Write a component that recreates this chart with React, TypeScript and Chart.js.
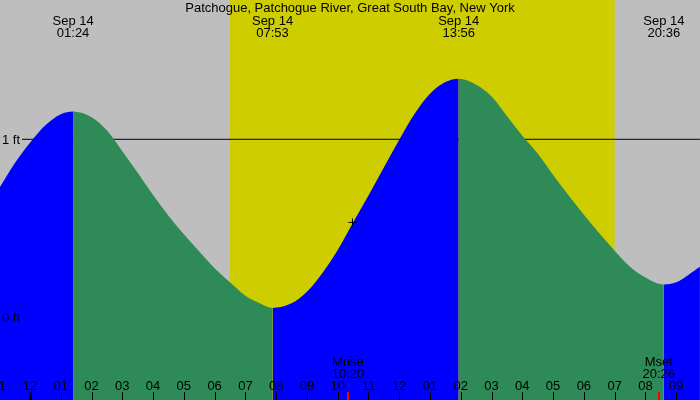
import { useEffect, useRef } from 'react'
import { Chart, registerables } from 'chart.js'
import type { Plugin } from 'chart.js'

Chart.register(...registerables)

const stationTitle = 'Patchogue, Patchogue River, Great South Bay, New York'

// hours after midnight Sep 14 / water level in feet
const tideHours = [-0.975, -0.5, 0, 0.5, 1, 1.4, 2, 2.5, 3, 3.5, 4, 4.5, 5, 5.5, 6, 6.5, 7, 7.5, 7.883, 8.5, 9, 9.5, 10, 10.5, 11, 11.5, 12, 12.5, 13, 13.5, 13.933, 14.5, 15, 15.5, 16, 16.5, 17, 18, 19, 19.5, 20, 20.6, 21, 21.77]
const tideFeet = [0.733, 0.864, 0.98, 1.078, 1.14, 1.156, 1.124, 1.05, 0.933, 0.813, 0.688, 0.572, 0.468, 0.372, 0.279, 0.2, 0.125, 0.08, 0.056, 0.082, 0.147, 0.25, 0.38, 0.535, 0.685, 0.842, 0.998, 1.143, 1.255, 1.32, 1.339, 1.305, 1.24, 1.13, 1.02, 0.92, 0.8, 0.578, 0.377, 0.287, 0.227, 0.188, 0.2, 0.287]

// high / low water
const extremeHours = [1.4, 7.883, 13.933, 20.6]
const extremeTimes = ['01:24', '07:53', '13:56', '20:36']
const extremeDay = 'Sep 14'

const sunriseHour = 6.5
const sunsetHour = 19.0

const moonHours = [10.333, 20.433]
const moonNames = ['Mrise', 'Mset']
const moonTimes = ['10:20', '20:26']

const hourTicks = [-1, 0, 1, 2, 3, 4, 5, 6, 7, 8, 9, 10, 11, 12, 13, 14, 15, 16, 17, 18, 19, 20, 21]
const hourLabels = ['11', '12', '01', '02', '03', '04', '05', '06', '07', '08', '09', '10', '11', '12', '01', '02', '03', '04', '05', '06', '07', '08', '09']

const levelFeet = [1, 0]
const levelLabels = ['1 ft', '0 ft']

const nowHour = 10.48
const nowFeet = 0.535

const FONT = '13px "Liberation Sans", Arial, sans-serif'

const backdrop: Plugin<'line'> = {
  id: 'backdrop',
  beforeDraw(chart) {
    const { ctx, chartArea, scales } = chart
    const x = scales.x
    ctx.save()
    ctx.fillStyle = '#bebebe'
    ctx.fillRect(0, 0, chart.width, chart.height)
    const x0 = x.getPixelForValue(sunriseHour)
    const x1 = x.getPixelForValue(sunsetHour)
    ctx.fillStyle = '#cdcd00'
    ctx.fillRect(x0, chartArea.top, x1 - x0, chartArea.bottom - chartArea.top)
    ctx.restore()
  }
}

const labels: Plugin<'line'> = {
  id: 'labels',
  afterDraw(chart) {
    const { ctx, scales } = chart
    const x = scales.x
    const y = scales.y
    ctx.save()
    ctx.font = FONT
    ctx.fillStyle = '#000'
    ctx.textBaseline = 'alphabetic'
    ctx.textAlign = 'center'

    ctx.fillText(stationTitle, chart.width / 2, 12)

    extremeHours.forEach((h, i) => {
      const px = x.getPixelForValue(h)
      ctx.fillText(extremeDay, px, 24.5)
      ctx.fillText(extremeTimes[i], px, 36.5)
    })

    ctx.textAlign = 'left'
    levelFeet.forEach((f, i) => {
      ctx.fillText(levelLabels[i], 2, y.getPixelForValue(f) + 4.5)
    })

    ctx.textAlign = 'center'
    moonHours.forEach((h, i) => {
      const px = x.getPixelForValue(h)
      ctx.fillText(moonNames[i], px, 366)
      ctx.fillText(moonTimes[i], px, 377.5)
      ctx.fillStyle = '#ff0000'
      ctx.fillRect(Math.round(px) - 1, 392, 2, 8)
      ctx.fillStyle = '#000'
    })

    hourTicks.forEach((h, i) => {
      const px = x.getPixelForValue(h)
      ctx.fillText(hourLabels[i], px, 390)
      if (h === 0) {
        ctx.fillRect(Math.round(px) - 1, 392, 3, 8)
      } else {
        ctx.fillRect(Math.round(px), 392, 1, 8)
      }
    })
    ctx.restore()
  }
}

export default function App() {
  const canvasRef = useRef<HTMLCanvasElement>(null)
  const chartRef = useRef<Chart | null>(null)

  useEffect(() => {
    document.body.style.margin = '0'
    if (!canvasRef.current) return
    if (chartRef.current) chartRef.current.destroy()

    chartRef.current = new Chart(canvasRef.current, {
      type: 'line',
      data: {
        datasets: [
          {
            // now marker
            data: [{ x: nowHour, y: nowFeet }],
            showLine: false,
            pointStyle: 'cross',
            pointRadius: 4,
            borderColor: '#000',
            borderWidth: 1,
            order: 0
          },
          {
            data: tideHours.map((h, i) => ({ x: h, y: tideFeet[i] })),
            fill: 'start',
            backgroundColor: '#0000ff',
            borderColor: 'rgba(0,0,0,0)',
            borderWidth: 0,
            pointRadius: 0,
            cubicInterpolationMode: 'monotone',
            segment: {
              backgroundColor: (c: any) => (c.p1.parsed.y >= c.p0.parsed.y ? '#0000ff' : '#2e8b57')
            },
            order: 1
          },
          {
            // 1 ft reference line, behind the water
            data: [{ x: -0.26, y: 1 }, { x: 21.77, y: 1 }],
            borderColor: '#000',
            borderWidth: 1,
            pointRadius: 0,
            fill: false,
            order: 2
          }
        ]
      },
      options: {
        animation: false,
        responsive: true,
        maintainAspectRatio: false,
        events: [],
        layout: { padding: 0, autoPadding: false },
        plugins: {
          legend: { display: false },
          tooltip: { enabled: false },
          title: { display: false }
        },
        scales: {
          x: { type: 'linear', min: -0.975, max: 21.774, display: false },
          y: { type: 'linear', min: -0.4589, max: 1.7795, display: false }
        }
      },
      plugins: [backdrop, labels]
    })

    return () => {
      if (chartRef.current) {
        chartRef.current.destroy()
        chartRef.current = null
      }
    }
  }, [])

  return (
    <div style={{ position: 'relative', width: 700, height: 400 }}>
      <canvas ref={canvasRef} />
    </div>
  )
}
